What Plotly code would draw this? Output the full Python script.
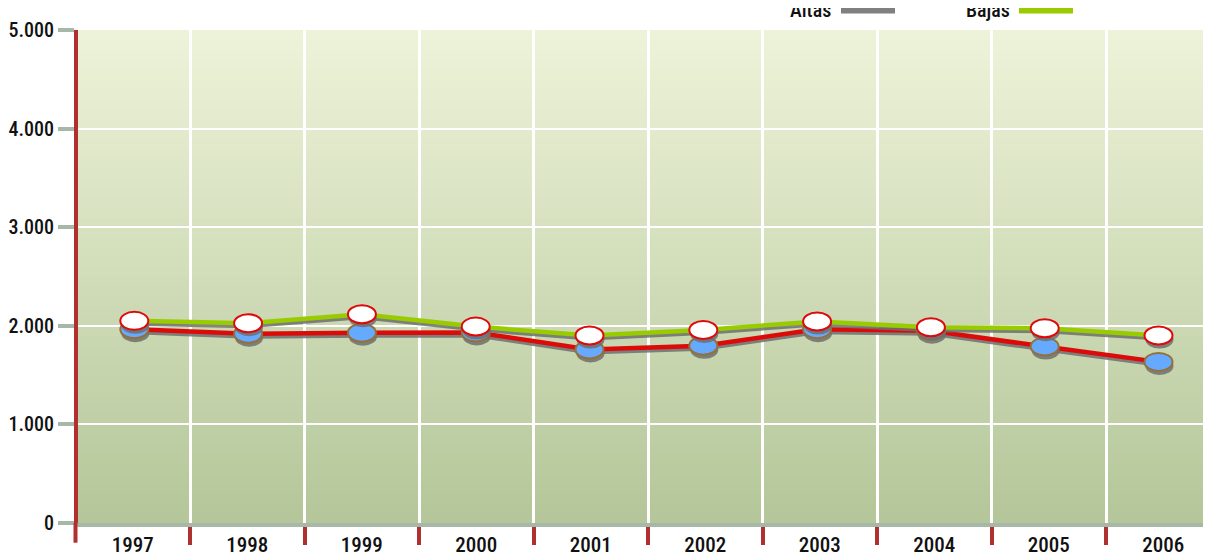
import plotly.graph_objects as go

# ---- data ----
years = ["1997", "1998", "1999", "2000", "2001", "2002", "2003", "2004", "2005", "2006"]
altas = [1965, 1920, 1930, 1933, 1760, 1797, 1966, 1950, 1789, 1634]
bajas = [2050, 2026, 2117, 1992, 1901, 1958, 2043, 1986, 1976, 1901]
y_ticks = [0, 1000, 2000, 3000, 4000, 5000]
y_tick_labels = ["0", "1.000", "2.000", "3.000", "4.000", "5.000"]

FONT = "Roboto Condensed, DejaVu Sans Condensed, sans-serif"
FW = 500
OFF = 8  # page body margin
W, H = 1211 - OFF, 558 - OFF
ML, MT = 78 - OFF, 30 - OFF
BOTTOM = 523.3 - OFF
MB = H - BOTTOM
plot_h = BOTTOM - MT
px_per_unit = plot_h / 5000.0

RED = "#dd0a0a"
GREEN = "#99cc00"
SHADOW = "rgba(110,110,110,0.85)"

fig = go.Figure()

def shadow(vals, px):
    return [v - px / px_per_unit for v in vals]

# category carrier for the visible x axis (grid, ticks, labels)
fig.add_trace(go.Scatter(x=years, y=bajas, xaxis="x", mode="none", hoverinfo="skip", showlegend=False))

fig.add_trace(go.Scatter(x=years, y=shadow(altas, 3), xaxis="x2", mode="lines",
                         line=dict(color=SHADOW, width=4), hoverinfo="skip", showlegend=False))
fig.add_trace(go.Scatter(x=years, y=altas, xaxis="x2", mode="lines", name="Altas",
                         line=dict(color=RED, width=4.5), showlegend=False))
fig.add_trace(go.Scatter(x=years, y=shadow(bajas, 3), xaxis="x2", mode="lines",
                         line=dict(color=SHADOW, width=4), hoverinfo="skip", showlegend=False))
fig.add_trace(go.Scatter(x=years, y=bajas, xaxis="x2", mode="lines", name="Bajas",
                         line=dict(color=GREEN, width=4.5), showlegend=False))

shapes = []
top = (238, 243, 217)
bot = (180, 198, 153)
N = 50
for i in range(N):
    t = (i + 0.5) / N
    c = tuple(round(bot[k] + (top[k] - bot[k]) * t) for k in range(3))
    shapes.append(dict(type="rect", xref="paper", yref="y", x0=0, x1=1,
                       y0=5000 * i / N, y1=min(5000, 5000 * (i + 1) / N + 40), layer="below",
                       line=dict(width=0), fillcolor="rgb(%d,%d,%d)" % c))

def ellipse(i, v, fill, outline, dy=0, dx=0, lw=2):
    return dict(type="circle", xref="x2", yref="y", xsizemode="pixel", ysizemode="pixel",
                xanchor=i, yanchor=v, x0=-14 + dx, x1=14 + dx, y0=-9 - dy, y1=9 - dy,
                fillcolor=fill, line=dict(color=outline, width=lw), layer="above")

for i, v in enumerate(altas):
    shapes.append(ellipse(i, v, SHADOW, "rgba(0,0,0,0)", dy=4, dx=1, lw=0))
    shapes.append(ellipse(i, v, "#66aaff", "#94703a"))
for i, v in enumerate(bajas):
    shapes.append(ellipse(i, v, SHADOW, "rgba(0,0,0,0)", dy=4, dx=1, lw=0))
    shapes.append(ellipse(i, v, "#ffffff", RED))

def px_x(p):
    return (p - OFF - ML) / (W - ML)

def px_y(p):
    return (BOTTOM - (p - OFF)) / plot_h

shapes.append(dict(type="line", xref="paper", yref="paper",
                   x0=px_x(75.5), x1=px_x(75.5), y0=0, y1=px_y(543),
                   line=dict(color="#b03030", width=4), layer="above"))

shapes.append(dict(type="rect", xref="paper", yref="paper", x0=px_x(841), x1=px_x(895),
                   y0=px_y(13.5), y1=px_y(4), fillcolor="#808080", line=dict(width=0)))
shapes.append(dict(type="rect", xref="paper", yref="paper", x0=px_x(1019), x1=px_x(1073),
                   y0=px_y(13.5), y1=px_y(4), fillcolor=GREEN, line=dict(width=0)))

annotations = [
    dict(text="Altas", xref="paper", yref="paper", x=px_x(833), y=px_y(10),
         xanchor="right", yanchor="middle", showarrow=False,
         font=dict(family=FONT, size=20, color="#111111", weight=FW)),
    dict(text="Bajas", xref="paper", yref="paper", x=px_x(1012), y=px_y(10),
         xanchor="right", yanchor="middle", showarrow=False,
         font=dict(family=FONT, size=20, color="#111111", weight=FW)),
]

col_w = 114.5
x_r0 = -0.5 + (78 - 75.5) / col_w
x_r1 = x_r0 + (W - ML) / col_w
d_s = 113.8
d_r0 = -(134.3 - 78) / d_s
d_r1 = d_r0 + (W - ML) / d_s

fig.update_layout(
    width=W, height=H,
    margin=dict(l=ML, r=0, t=MT, b=MB, pad=0, autoexpand=False),
    paper_bgcolor="white", plot_bgcolor="rgba(0,0,0,0)",
    showlegend=False,
    font=dict(family=FONT, size=20, color="#111111"),
    shapes=shapes, annotations=annotations,
    xaxis=dict(type="category", categoryorder="array", categoryarray=years,
               range=[x_r0, x_r1], tickson="boundaries",
               showgrid=True, gridcolor="white", gridwidth=2.5,
               ticks="outside", ticklen=18, tickwidth=4, tickcolor="#b03030",
               showline=True, linecolor="#a8b8a8", linewidth=4,
               tickfont=dict(family=FONT, size=21, color="#111111", weight=FW),
               zeroline=False, fixedrange=True, automargin=False),
    xaxis2=dict(type="category", categoryorder="array", categoryarray=years,
                range=[d_r0, d_r1], overlaying="x", visible=False, fixedrange=True),
    yaxis=dict(range=[0, 5000], tickvals=y_ticks, ticktext=y_tick_labels,
               showgrid=True, gridcolor="white", gridwidth=2,
               ticks="outside", ticklen=16, tickwidth=4, tickcolor="#a8b8a8",
               showline=True, linecolor="#b03030", linewidth=4,
               tickfont=dict(family=FONT, size=20, color="#111111", weight=FW),
               zeroline=False, fixedrange=True, automargin=False),
)

fig.write_html("out.html")
